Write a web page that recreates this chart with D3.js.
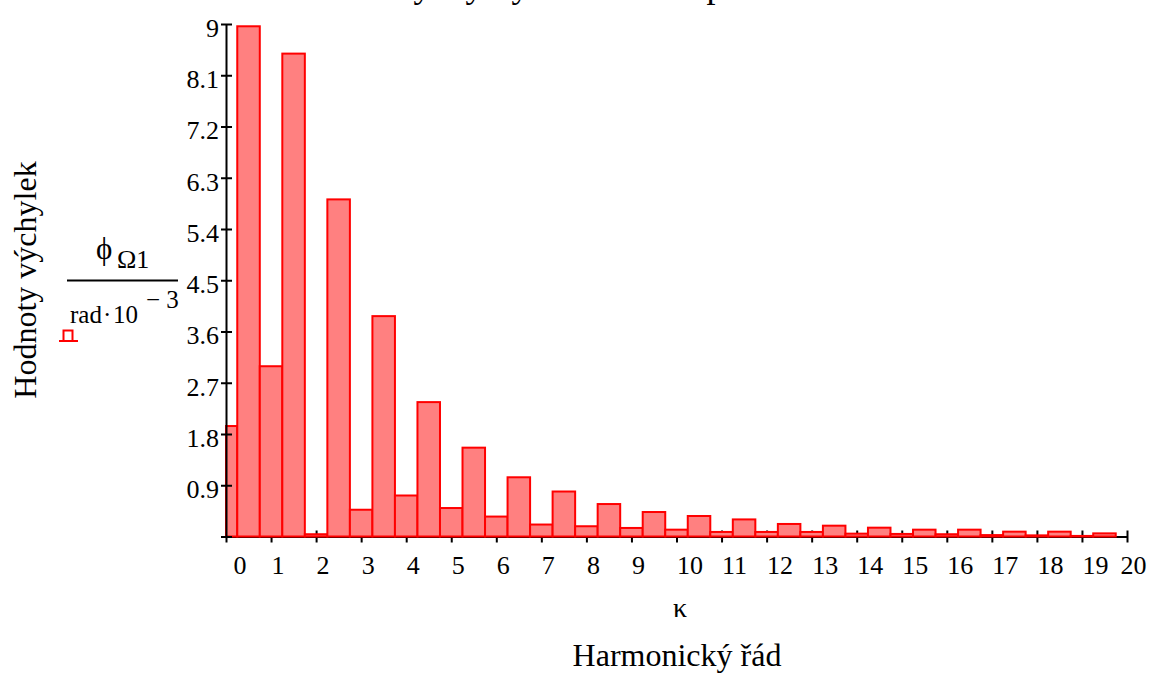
<!DOCTYPE html>
<html>
<head>
<meta charset="utf-8">
<script src="https://cdn.jsdelivr.net/npm/d3@7"></script>
<style>
  body { margin: 0; background: #fff; }
  svg { display: block; font-family: "Liberation Serif", "Times New Roman", serif; }
</style>
</head>
<body>
<svg></svg>
<script>
// harmonic order (half orders) and deflection amplitude [rad*10^-3]
const kappa = [0, 0.5, 1, 1.5, 2, 2.5, 3, 3.5, 4, 4.5,
               5, 5.5, 6, 6.5, 7, 7.5, 8, 8.5, 9, 9.5,
               10, 10.5, 11, 11.5, 12, 12.5, 13, 13.5, 14, 14.5,
               15, 15.5, 16, 16.5, 17, 17.5, 18, 18.5, 19, 19.5];
const phi = [1.94, 8.96, 2.99, 8.48, 0.04, 5.92, 0.47, 3.87, 0.72, 2.36,
             0.50, 1.56, 0.35, 1.04, 0.21, 0.79, 0.18, 0.57, 0.15, 0.43,
             0.12, 0.36, 0.08, 0.30, 0.08, 0.22, 0.08, 0.19, 0.05, 0.155,
             0.045, 0.12, 0.04, 0.12, 0.025, 0.085, 0.02, 0.085, 0.01, 0.055];
const yTicks = [0, 0.9, 1.8, 2.7, 3.6, 4.5, 5.4, 6.3, 7.2, 8.1, 9];
const yTickLabels = ["", "0.9", "1.8", "2.7", "3.6", "4.5", "5.4", "6.3", "7.2", "8.1", "9"];
const xTicks = [0, 1, 2, 3, 4, 5, 6, 7, 8, 9, 10, 11, 12, 13, 14, 15, 16, 17, 18, 19, 20];

const W = 1152, H = 673;
const svg = d3.select("svg").attr("width", W).attr("height", H);

const x = d3.scaleLinear().domain([0, 20]).range([226, 1127]);
const y = d3.scaleLinear().domain([0, 9]).range([536.5, 24]);
const halfW = 0.25;

// title (cut off at the top edge in the original)
svg.append("text")
  .attr("x", 293).attr("y", -3)
  .style("font-size", "36px")
  .text("Torzní výchylky hřídele — spektrum");

// x axis (under the bars)
const xAxisG = svg.append("g")
  .attr("transform", `translate(0,${y(0)})`)
  .call(d3.axisBottom(x).tickValues(xTicks).tickSize(6).tickSizeOuter(0).tickPadding(13));
xAxisG.select(".domain").attr("stroke", "#000").attr("stroke-width", 2);
xAxisG.selectAll(".tick line").attr("y1", -6).attr("stroke-width", 2);
xAxisG.selectAll(".tick text")
  .attr("text-anchor", "start")
  .attr("x", (d, i) => i === 0 ? 7 : (i === xTicks.length - 1 ? -7 : 0))
  .style("font-size", "26px")
  .attr("fill", "#000");
xAxisG.attr("font-family", null).attr("font-size", null);

// bars
svg.append("g").selectAll("rect")
  .data(kappa)
  .join("rect")
  .attr("x", d => x(Math.max(0, d - halfW)))
  .attr("width", d => x(d + halfW) - x(Math.max(0, d - halfW)))
  .attr("y", (d, i) => y(phi[i]))
  .attr("height", (d, i) => y(0) - y(phi[i]))
  .attr("fill", "#ff8080")
  .attr("stroke", "#ff0000")
  .attr("stroke-width", 2);

// y axis (on top)
const yAxisG = svg.append("g")
  .attr("transform", `translate(${x(0)},0)`)
  .call(d3.axisLeft(y).tickValues(yTicks).tickSize(5).tickSizeOuter(0).tickPadding(2)
    .tickFormat((d, i) => yTickLabels[i]));
yAxisG.select(".domain").attr("stroke", "#000").attr("stroke-width", 2);
yAxisG.selectAll(".tick line").attr("x1", 6).attr("stroke-width", 2);
yAxisG.selectAll(".tick text")
  .attr("dy", "0.48em")
  .style("font-size", "26px")
  .attr("fill", "#000");
yAxisG.attr("font-family", null).attr("font-size", null);

// y axis label
svg.append("text")
  .attr("transform", "translate(36,280) rotate(-90)")
  .attr("text-anchor", "middle")
  .style("font-size", "32px")
  .text("Hodnoty výchylek");

// unit expression  phi_Ω1 / (rad·10^-3)
const ex = svg.append("g");
ex.append("text").attr("x", 96).attr("y", 259).style("font-size", "31px").text("ϕ");
ex.append("text").attr("x", 117).attr("y", 268).style("font-size", "26px").text("Ω1");
ex.append("line").attr("x1", 67).attr("x2", 178).attr("y1", 280.5).attr("y2", 280.5)
  .attr("stroke", "#000").attr("stroke-width", 2);
ex.append("text").attr("x", 70).attr("y", 323).style("font-size", "25px").text("rad");
ex.append("text").attr("x", 103).attr("y", 323).style("font-size", "25px").text("·");
ex.append("text").attr("x", 113).attr("y", 323).style("font-size", "25px").text("10");
ex.append("text").attr("x", 146).attr("y", 308).style("font-size", "25px").text("− 3");

// legend marker
const lg = svg.append("g").attr("stroke", "#ff0000").attr("stroke-width", 2).attr("fill", "none");
lg.append("rect").attr("x", 63.5).attr("y", 330.5).attr("width", 9).attr("height", 10.5);
lg.append("line").attr("x1", 59).attr("x2", 78).attr("y1", 341).attr("y2", 341);

// x axis labels
svg.append("text")
  .attr("x", 680).attr("y", 617)
  .attr("text-anchor", "middle")
  .style("font-size", "28px")
  .text("κ");
svg.append("text")
  .attr("x", 677).attr("y", 666)
  .attr("text-anchor", "middle")
  .style("font-size", "32px")
  .text("Harmonický řád");
</script>
</body>
</html>
